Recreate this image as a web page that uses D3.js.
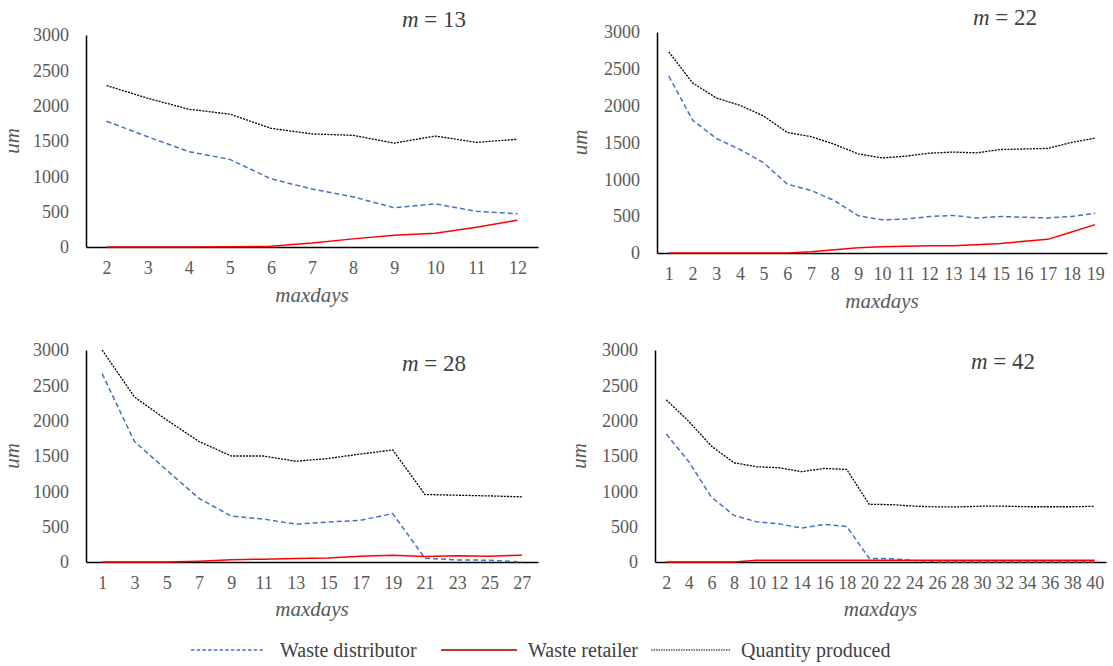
<!DOCTYPE html>
<html>
<head>
<meta charset="utf-8">
<script src="https://cdn.jsdelivr.net/npm/d3@7"></script>
<style>
  html, body { margin: 0; padding: 0; background: #fff; }
  svg { display: block; }
  svg text { font-family: "Liberation Serif", Tinos, "Times New Roman", Times, "DejaVu Serif", serif; }
</style>
</head>
<body>
<svg id="chart" width="1113" height="666"></svg>
<script>
// ---------- data ----------
const seriesNames = ["Waste distributor", "Waste retailer", "Quantity produced"];
const yTicks = [0, 500, 1000, 1500, 2000, 2500, 3000];

const cats13 = [2, 3, 4, 5, 6, 7, 8, 9, 10, 11, 12];
const dist13 = [1780, 1560, 1350, 1240, 965, 820, 710, 555, 610, 505, 470];
const ret13  = [0, 0, 0, 5, 10, 55, 115, 165, 195, 280, 380];
const qty13  = [2285, 2105, 1950, 1880, 1680, 1600, 1580, 1470, 1570, 1480, 1525];

const cats22 = [1, 2, 3, 4, 5, 6, 7, 8, 9, 10, 11, 12, 13, 14, 15, 16, 17, 18, 19];
const dist22 = [2400, 1805, 1555, 1405, 1225, 935, 850, 710, 505, 450, 460, 495, 510, 475, 495, 485, 475, 495, 540];
const ret22  = [0, 0, 0, 0, 0, 0, 18, 45, 72, 85, 90, 100, 100, 112, 130, 158, 185, 285, 385];
const qty22  = [2730, 2310, 2105, 2005, 1860, 1635, 1580, 1475, 1345, 1290, 1315, 1355, 1370, 1360, 1405, 1412, 1420, 1500, 1560];

const cats28 = [1, 3, 5, 7, 9, 11, 13, 15, 17, 19, 21, 23, 25, 27];
const dist28 = [2665, 1705, 1300, 900, 650, 607, 535, 565, 590, 685, 52, 30, 25, 0];
const ret28  = [0, 0, 0, 12, 33, 40, 48, 58, 82, 97, 78, 88, 82, 97];
const qty28  = [3000, 2335, 2010, 1705, 1500, 1500, 1425, 1465, 1528, 1585, 955, 945, 935, 922];

const cats42 = [2, 4, 6, 8, 10, 12, 14, 16, 18, 20, 22, 24, 26, 28, 30, 32, 34, 36, 38, 40];
const dist42 = [1810, 1420, 920, 660, 570, 540, 480, 532, 503, 52, 47, 20, 5, 5, 5, 5, 5, 5, 5, 5];
const ret42  = [0, 0, 0, 0, 24, 24, 24, 24, 24, 24, 24, 24, 24, 24, 24, 24, 24, 24, 24, 24];
const qty42  = [2295, 1990, 1640, 1405, 1348, 1334, 1278, 1324, 1310, 816, 812, 790, 780, 780, 790, 790, 782, 782, 782, 788];

const panelTitles = ["13", "22", "28", "42"];

// ---------- layout ----------
const panels = [
  { cats: cats13, dist: dist13, ret: ret13, qty: qty13, title: panelTitles[0],
    x0: 86, x1: 538, yTop: 35, yBase: 247, titleX: 434, titleY: 27, umX: 12, xlabY: 302, ypad: 17 },
  { cats: cats22, dist: dist22, ret: ret22, qty: qty22, title: panelTitles[1],
    x0: 657, x1: 1107, yTop: 32, yBase: 253, titleX: 1005, titleY: 25, umX: 580, xlabY: 308, ypad: 17 },
  { cats: cats28, dist: dist28, ret: ret28, qty: qty28, title: panelTitles[2],
    x0: 86, x1: 538, yTop: 350, yBase: 562, titleX: 434, titleY: 371, umX: 12, xlabY: 616, ypad: 17 },
  { cats: cats42, dist: dist42, ret: ret42, qty: qty42, title: panelTitles[3],
    x0: 655, x1: 1106, yTop: 350, yBase: 562, titleX: 1003, titleY: 369, umX: 579, xlabY: 616, ypad: 17 }
];

const styles = [
  { key: "dist", color: "#4472C4", width: 1.5, dash: "5,3" },
  { key: "ret",  color: "#FF0000", width: 1.5, dash: null },
  { key: "qty",  color: "#000000", width: 1.3, dash: "2,1.2" }
];

const svg = d3.select("#chart");
const textColor = "#595959";

panels.forEach(p => {
  const g = svg.append("g");
  const x = d3.scalePoint().domain(p.cats).range([p.x0, p.x1]).padding(0.5);
  const y = d3.scaleLinear().domain([0, 3000]).range([p.yBase, p.yTop]);

  // y axis
  const ya = g.append("g").attr("transform", `translate(${p.x0},0)`)
    .call(d3.axisLeft(y).tickValues(yTicks).tickSize(0).tickSizeOuter(0).tickPadding(p.ypad).tickFormat(d3.format("d")));
  ya.attr("font-family", null).attr("font-size", null);
  ya.select(".domain").attr("stroke", "#000").attr("stroke-width", 1.5);
  ya.selectAll("text").attr("fill", textColor).style("font-size", "18px");

  // x axis
  const xa = g.append("g").attr("transform", `translate(0,${p.yBase})`)
    .call(d3.axisBottom(x).tickSize(0).tickSizeOuter(0).tickPadding(14));
  xa.attr("font-family", null).attr("font-size", null);
  xa.select(".domain").attr("stroke", "#000").attr("stroke-width", 1.5);
  xa.selectAll("text").attr("fill", textColor).style("font-size", "18px");

  // series lines
  const order = [styles[0], styles[2], styles[1]];
  order.forEach(s => {
    const vals = p[s.key];
    const line = d3.line().x((d, i) => x(p.cats[i])).y(d => y(d));
    g.append("path")
      .attr("d", line(vals))
      .attr("fill", "none")
      .attr("stroke", s.color)
      .attr("stroke-width", s.width)
      .attr("stroke-dasharray", s.dash)
      .attr("stroke-linejoin", "round");
  });

  // title
  const t = g.append("text").attr("x", p.titleX).attr("y", p.titleY)
    .attr("text-anchor", "middle").attr("fill", "#404040").style("font-size", "23px");
  t.append("tspan").style("font-style", "italic").text("m");
  t.append("tspan").text(" = " + p.title);

  // axis titles
  g.append("text").attr("x", (p.x0 + p.x1) / 2).attr("y", p.xlabY)
    .attr("text-anchor", "middle").attr("fill", textColor)
    .style("font-style", "italic").style("font-size", "21px").text("maxdays");
  g.append("text")
    .attr("transform", `translate(${p.umX},${(p.yTop + p.yBase) / 2}) rotate(-90)`)
    .attr("text-anchor", "middle").attr("dy", "0.35em").attr("fill", textColor)
    .style("font-style", "italic").style("font-size", "21px").text("um");
});

// ---------- legend ----------
const legendItems = [
  { name: seriesNames[0], color: "#4472C4", width: 1.5, dash: "3.5,2.2", lx0: 191, lx1: 265, tx: 280 },
  { name: seriesNames[1], color: "#C0392B", width: 2, dash: null, lx0: 441, lx1: 517, tx: 528 },
  { name: seriesNames[2], color: "#000000", width: 1, dash: "1.5,1", lx0: 651, lx1: 730, tx: 741 }
];
const lg = svg.append("g");
const ly = 650;
legendItems.forEach(it => {
  lg.append("line").attr("x1", it.lx0).attr("x2", it.lx1).attr("y1", ly).attr("y2", ly)
    .attr("stroke", it.color).attr("stroke-width", it.width).attr("stroke-dasharray", it.dash);
  lg.append("text").attr("x", it.tx).attr("y", ly).attr("dy", "0.35em")
    .attr("fill", "#404040").style("font-size", "20px").text(it.name);
});
</script>
</body>
</html>
